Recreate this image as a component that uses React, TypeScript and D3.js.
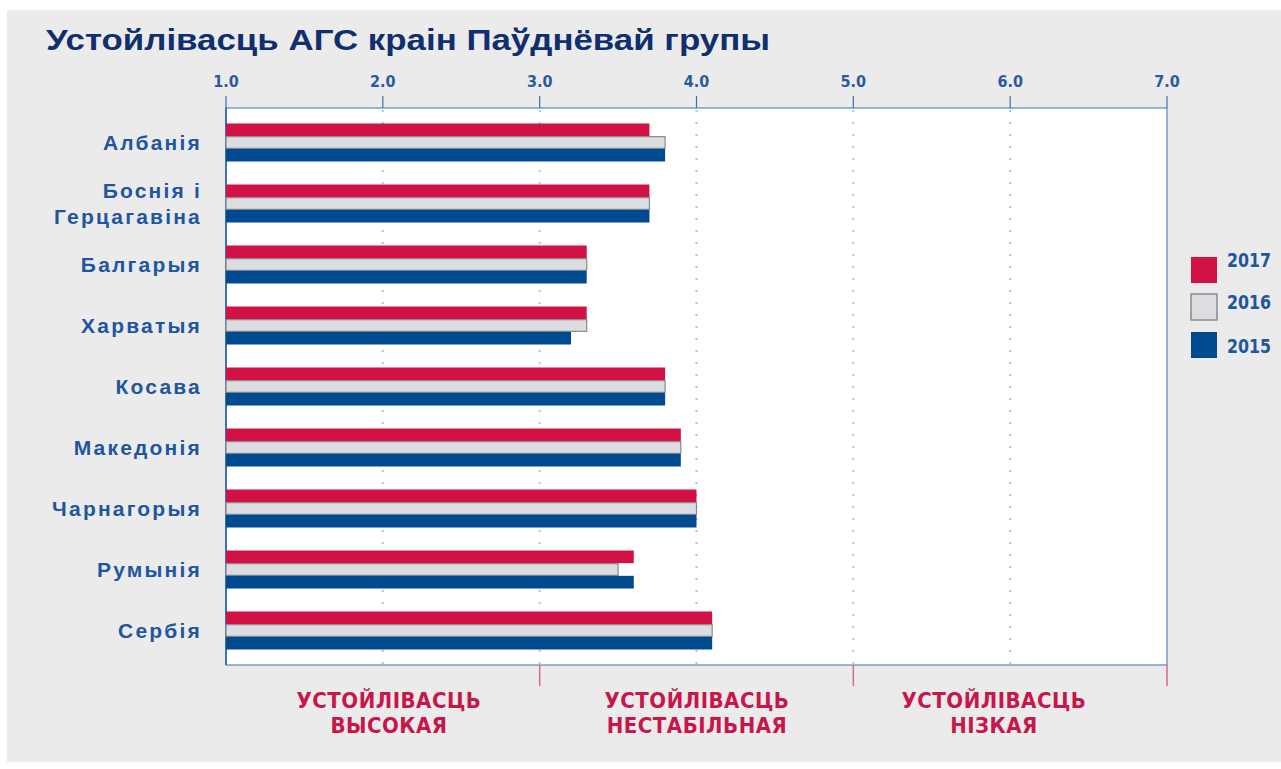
import React from "react";
import * as d3 from "d3";

const categories = ["Албанія", "Боснія і Герцагавіна", "Балгарыя", "Харватыя", "Косава", "Македонія", "Чарнагорыя", "Румынія", "Сербія"];
const categoryLines = [["Албанія"], ["Боснія  і", "Герцагавіна"], ["Балгарыя"], ["Харватыя"], ["Косава"], ["Македонія"], ["Чарнагорыя"], ["Румынія"], ["Сербія"]];
const years = ["2017", "2016", "2015"];
const values2017 = [3.7, 3.7, 3.3, 3.3, 3.8, 3.9, 4.0, 3.6, 4.1];
const values2016 = [3.8, 3.7, 3.3, 3.3, 3.8, 3.9, 4.0, 3.5, 4.1];
const values2015 = [3.8, 3.7, 3.3, 3.2, 3.8, 3.9, 4.0, 3.6, 4.1];
const xTicks = [1, 2, 3, 4, 5, 6, 7];
const zoneLabels = [["УСТОЙЛІВАСЦЬ", "ВЫСОКАЯ"], ["УСТОЙЛІВАСЦЬ", "НЕСТАБІЛЬНАЯ"], ["УСТОЙЛІВАСЦЬ", "НІЗКАЯ"]];
const zoneBounds = [1, 3, 5, 7];
const title = "Устойлівасць АГС краін Паўднёвай групы";

const seriesValues = [values2017, values2016, values2015];
const fills = ["#d21245", "#dcdde0", "#004a8f"];
const strokes = ["none", "#8a8a8a", "none"];

export default function App() {
  const W = 1281, H = 769;
  const left = 226, right = 1167, top = 108, bottom = 665;
  const x = d3.scaleLinear().domain([1, 7]).range([left, right]);
  const y = d3.scaleBand<string>().domain(categories).range([112, 661]).paddingInner(0.377).paddingOuter(0.1885);
  const sub = d3.scaleBand<string>().domain(years).range([0, y.bandwidth()]);
  const blue = "#1f56a0";
  const red = "#c8164a";
  const gridDots: number[] = [2, 3, 4, 5, 6];
  const legendTops = [257, 294, 332];
  const legendBase = [267, 309, 353];

  return (
    <svg width={W} height={H} style={{ position: "absolute", left: 0, top: 0 }} xmlns="http://www.w3.org/2000/svg">
      <rect x={0} y={0} width={W} height={H} fill="#ffffff" />
      <rect x={7} y={10} width={W - 7} height={752} fill="#ebebeb" />
      <text x={46} y={50} fill="#0f2f6e" fontFamily="Liberation Sans, Arial, sans-serif" fontWeight="bold" fontSize={29} textLength={724} lengthAdjust="spacingAndGlyphs">{title}</text>
      <rect x={left} y={top} width={right - left} height={bottom - top} fill="#ffffff" stroke="#5b86bd" strokeWidth={1.2} />
      <line x1={left} x2={left} y1={top} y2={bottom} stroke="#3e6fae" strokeWidth={2} />
      {gridDots.map((t) => (
        <line key={"g" + t} x1={x(t)} x2={x(t)} y1={top + 2} y2={bottom} stroke="#a9c2e6" strokeWidth={2} strokeDasharray="2,10" />
      ))}
      {xTicks.map((t) => (
        <g key={"t" + t}>
          <line x1={x(t)} x2={x(t)} y1={96} y2={top} stroke="#3e6fae" strokeWidth={1.2} />
          <text x={x(t)} y={87} textAnchor="middle" fill="#2a5c9c" fontFamily="DejaVu Sans Condensed, sans-serif" fontWeight="bold" fontSize={16}>{t.toFixed(1)}</text>
        </g>
      ))}
      {categories.map((c, i) => (
        <g key={c}>
          {seriesValues.map((vals, j) => (
            <rect key={j} x={x(1)} y={(y(c) as number) + (sub(years[j]) as number) + (j === 1 ? 0.5 : 0)} width={x(vals[i]) - x(1)} height={sub.bandwidth() - (j === 1 ? 1 : 0)} fill={fills[j]} stroke={strokes[j]} strokeWidth={1.2} />
          ))}
          {categoryLines[i].map((ln, k) => {
            const n = categoryLines[i].length;
            const cy = (y(c) as number) + y.bandwidth() / 2 + (k - (n - 1) / 2) * 26 + 7;
            return (
              <text key={k} x={202} y={cy} textAnchor="end" fill={blue} fontFamily="Liberation Sans, Arial, sans-serif" fontWeight="bold" fontSize={21} letterSpacing={2.2}>{ln}</text>
            );
          })}
        </g>
      ))}
      {zoneBounds.slice(1).map((b) => (
        <line key={"z" + b} x1={x(b)} x2={x(b)} y1={bottom} y2={686} stroke="#d86a88" strokeWidth={1.5} />
      ))}
      {zoneLabels.map((lines, i) => {
        const cx = i === 0 ? 389 : i === 1 ? 697 : 994;
        return lines.map((ln, k) => (
          <text key={i + "-" + k} x={cx} y={708 + k * 25} textAnchor="middle" fill={red} fontFamily="DejaVu Sans Condensed, sans-serif" fontWeight="bold" fontSize={22} letterSpacing={0.5}>{ln}</text>
        ));
      })}
      {years.map((yr, j) => (
        <g key={"l" + yr}>
          <rect x={1191} y={legendTops[j]} width={26} height={26} fill={fills[j]} stroke={strokes[j]} strokeWidth={1.5} />
          <text x={1227} y={legendBase[j]} fill={blue} fontFamily="DejaVu Sans Condensed, sans-serif" fontWeight="bold" fontSize={20} textLength={44} lengthAdjust="spacingAndGlyphs">{yr}</text>
        </g>
      ))}
    </svg>
  );
}
